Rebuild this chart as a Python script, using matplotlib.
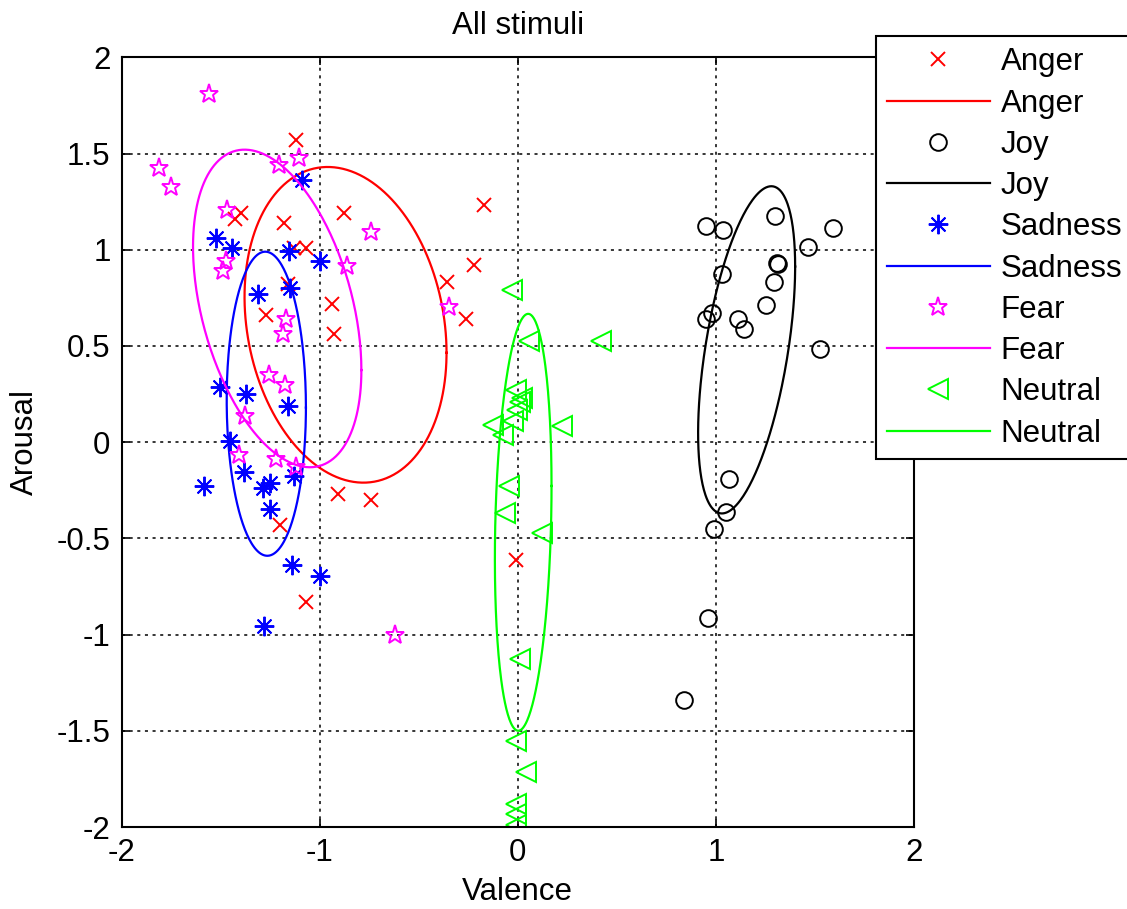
import numpy as np
import matplotlib
matplotlib.use('Agg')
import matplotlib.pyplot as plt

# data (valence, arousal)
anger_x = [-1.12, -0.17, -1.40, -1.43, -1.18, -0.88, -1.13, -1.07, -0.22, -0.36,
           -0.26, -0.94, -0.93, -1.27, -1.16, -0.91, -0.74, -1.20, -1.07, -0.01]
anger_y = [1.57, 1.23, 1.19, 1.16, 1.14, 1.19, 1.01, 1.01, 0.92, 0.83,
           0.64, 0.72, 0.56, 0.66, 0.82, -0.27, -0.30, -0.43, -0.83, -0.61]

joy_x = [0.95, 1.037, 1.30, 1.592, 1.466, 1.306, 1.311, 1.029, 1.293, 1.251,
         0.978, 0.948, 1.109, 1.141, 1.525, 1.067, 1.05, 0.99, 0.958, 0.838]
joy_y = [1.124, 1.105, 1.175, 1.114, 1.013, 0.933, 0.924, 0.872, 0.834, 0.714,
         0.672, 0.642, 0.642, 0.590, 0.482, -0.19, -0.362, -0.451, -0.914, -1.337]

sad_x = [-1.092, -1.522, -1.441, -1.157, -1.0, -1.148, -1.312, -1.505, -1.374, -1.160,
         -1.455, -1.384, -1.584, -1.130, -1.249, -1.289, -1.249, -1.138, -1.0, -1.281]
sad_y = [1.362, 1.06, 1.011, 0.994, 0.942, 0.803, 0.769, 0.289, 0.251, 0.189,
         0.007, -0.153, -0.225, -0.173, -0.213, -0.237, -0.347, -0.637, -0.693, -0.953]

fear_x = [-1.559, -1.812, -1.749, -1.205, -1.104, -1.468, -0.739, -1.471, -1.488, -0.862,
          -0.347, -1.173, -1.185, -1.256, -1.177, -1.379, -1.408, -1.219, -1.118, -0.621]
fear_y = [1.807, 1.423, 1.328, 1.44, 1.475, 1.207, 1.094, 0.943, 0.891, 0.916,
          0.701, 0.639, 0.561, 0.350, 0.298, 0.137, -0.066, -0.088, -0.127, -1.001]

neu_x = [-0.030, 0.054, 0.418, -0.010, 0.013, -0.005, -0.024, -0.128, -0.074, 0.224,
         -0.047, -0.067, 0.124, 0.013, -0.008, 0.042, -0.008, -0.008, -0.008, 0.02]
neu_y = [0.793, 0.526, 0.526, 0.272, 0.209, 0.169, 0.110, 0.090, 0.040, 0.082,
         -0.227, -0.37, -0.473, -1.124, -1.554, -1.711, -1.879, -1.931, -1.99, 0.23]

# ellipse parameters: centre and covariance-like terms
ell_cx = [-0.87, 1.155, -1.27, -1.215, 0.027]
ell_cy = [0.61, 0.48, 0.20, 0.695, -0.416]
ell_sxx = [0.26, 0.06, 0.04, 0.1806, 0.02045]
ell_syy = [0.6724, 0.7225, 0.624, 0.6806, 1.173]
ell_sxy = [-0.074, 0.106, -0.004, -0.136, 0.027]

labels = ['Anger', 'Joy', 'Sadness', 'Fear', 'Neutral']
colors = ['#ff0000', '#000000', '#0000ff', '#ff00ff', '#00ff00']
markers = ['x', 'o', (8, 2, 0), '*', '<']
msizes = [10, 12, 14, 14, 14]
xs = [anger_x, joy_x, sad_x, fear_x, neu_x]
ys = [anger_y, joy_y, sad_y, fear_y, neu_y]

plt.rcParams['font.family'] = ['Liberation Sans', 'DejaVu Sans']
plt.rcParams['font.size'] = 22.5

fig = plt.figure(figsize=(11.27, 9.09), dpi=100)
ax = fig.add_axes([0.108, 0.090, 0.703, 0.847])

t = np.linspace(0, 2 * np.pi, 300)
for i in range(5):
    ax.plot(xs[i], ys[i], linestyle='none', marker=markers[i], ms=msizes[i],
            mfc='none', mec=colors[i], mew=1.4, label=labels[i])
    hx = np.sqrt(ell_sxx[i])
    ex = ell_cx[i] + hx * np.cos(t)
    ey = ell_cy[i] + ell_sxy[i] / hx * np.cos(t) + \
        np.sqrt(ell_syy[i] - ell_sxy[i] ** 2 / ell_sxx[i]) * np.sin(t)
    ax.plot(ex, ey, color=colors[i], lw=1.6, label=labels[i])

ax.set_xlim(-2, 2)
ax.set_ylim(-2, 2)
ax.set_xticks([-2, -1, 0, 1, 2])
ax.set_yticks(np.arange(-2, 2.01, 0.5))
ax.set_yticklabels(['-2', '-1.5', '-1', '-0.5', '0', '0.5', '1', '1.5', '2'])
ax.set_xticklabels(['-2', '-1', '0', '1', '2'])
ax.grid(True, color='black', linestyle=(0, (2, 3)), linewidth=1.1)
ax.tick_params(direction='in', top=True, right=True, length=6, width=1.2, pad=8)
for s in ax.spines.values():
    s.set_linewidth(1.5)

ax.set_title('All stimuli', fontsize=22.5, pad=17)
ax.set_xlabel('Valence', labelpad=6)
ax.set_ylabel('Arousal', labelpad=12)

leg = ax.legend(loc='upper left', bbox_to_anchor=(0.777, 0.960),
                bbox_transform=fig.transFigure, numpoints=1, fancybox=False,
                edgecolor='black', framealpha=1, handlelength=3.3,
                handletextpad=0.35, labelspacing=0.36, borderpad=0.35,
                borderaxespad=0)
leg.get_frame().set_linewidth(1.5)

fig.savefig('out.png', dpi=100)
